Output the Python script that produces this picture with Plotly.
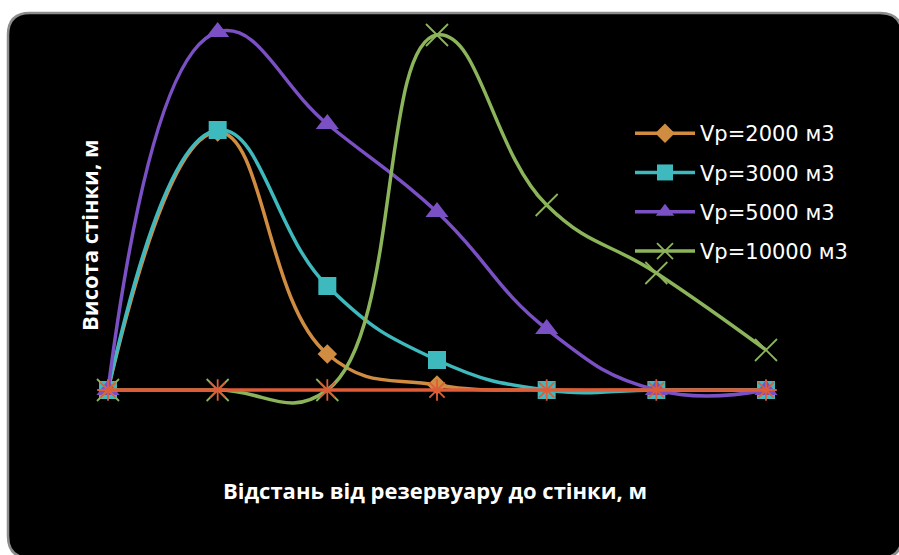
import plotly.graph_objects as go

# Data (heights, arbitrary units)
distances = [1, 2, 3, 4, 5, 6, 7]
vp2000 = [0, 2.58, 0.36, 0.05, 0, 0, 0]
vp3000 = [0, 2.60, 1.04, 0.30, 0, 0, 0]
vp5000 = [0, 3.58, 2.66, 1.78, 0.61, 0, 0]
vp10000 = [0, 0, 0, 3.55, 1.85, 1.17, 0.40]
baseline = [0, 0, 0, 0, 0, 0, 0]
names = ["Vp=2000 м3", "Vp=3000 м3", "Vp=5000 м3", "Vp=10000 м3"]

W, H = 899, 555
OFF = 0
ML, MR, MT, MB = 60, 60, 28, 105
PW = W - ML - MR
PH = H - MT - MB

def fx(px):
    return (px - OFF - ML) / PW

def fy(py):
    return (H - MB - (py - OFF)) / PH

fig = go.Figure()

styles = [
    (vp2000, names[0], "rgb(208,140,64)", "diamond", 15, 0),
    (vp3000, names[1], "rgb(62,186,190)", "square", 18, 0),
    (vp5000, names[2], "rgb(122,80,196)", "triangle-up", 20, 0),
    (vp10000, names[3], "rgb(140,180,90)", "x-thin-open", 22, 1.8),
]
for i, (vals, nm, col, sym, sz, lw) in enumerate(styles):
    fig.add_trace(go.Scatter(
        x=distances, y=vals, name=nm, mode="lines+markers",
        line=dict(color=col, width=3.5, shape="spline", smoothing=1.3),
        marker=dict(symbol=sym, size=sz, color=col, line=dict(color=col, width=lw)),
        cliponaxis=False, legendgroup=str(i),
    ))

fig.add_trace(go.Scatter(
    x=distances, y=baseline, name="Ряд5", mode="lines+markers", showlegend=False,
    line=dict(color="rgb(222,92,56)", width=3.5),
    marker=dict(symbol="asterisk-open", size=18, color="rgb(222,92,56)",
                line=dict(color="rgb(222,92,56)", width=1.8)),
    cliponaxis=False,
))

# black rounded background panel
x0, y0, x1, y1, r = fx(8), fy(13), fx(902), fy(558), 22
rx, ry = r / PW, r / PH
path = (f"M{x0+rx},{y0} L{x1-rx},{y0} Q{x1},{y0} {x1},{y0-ry} "
        f"L{x1},{y1+ry} Q{x1},{y1} {x1-rx},{y1} L{x0+rx},{y1} "
        f"Q{x0},{y1} {x0},{y1+ry} L{x0},{y0-ry} Q{x0},{y0} {x0+rx},{y0} Z")
fig.add_shape(type="path", path=path, xref="paper", yref="paper",
              fillcolor="black", line=dict(color="#8c8c8c", width=2.5), layer="below")

title_font = dict(family="Open Sans", size=22, color="white")
fig.add_annotation(text="<b>Відстань від резервуару до стінки, м</b>", xref="paper", yref="paper",
                   x=fx(435), y=fy(490), xanchor="center", yanchor="middle",
                   showarrow=False, font=title_font)
fig.add_annotation(text="<b>Висота стінки, м</b>", xref="paper", yref="paper",
                   x=fx(89), y=fy(235), xanchor="center", yanchor="middle",
                   showarrow=False, textangle=-90, font=title_font)

xpx = 109.67
x_left = 108 - OFF - ML
x_right = (W - MR) - (766 - OFF)
y_zero = 390 - OFF
fig.update_layout(
    width=W, height=H,
    margin=dict(l=ML, r=MR, t=MT, b=MB),
    paper_bgcolor="white", plot_bgcolor="rgba(0,0,0,0)",
    xaxis=dict(range=[1 - x_left / xpx, 7 + x_right / xpx], visible=False),
    yaxis=dict(range=[-((H - MB) - y_zero) / 100, (y_zero - MT) / 100], visible=False),
    legend=dict(x=fx(630), y=fy(113), xanchor="left", yanchor="top",
                bgcolor="rgba(0,0,0,0)", font=dict(family="DejaVu Sans", size=21, color="white"),
                traceorder="grouped", tracegroupgap=9, itemwidth=60),
    showlegend=True,
)

fig.write_html("out.html", config={"displayModeBar": False},
               post_script="document.body.style.margin='0';")
